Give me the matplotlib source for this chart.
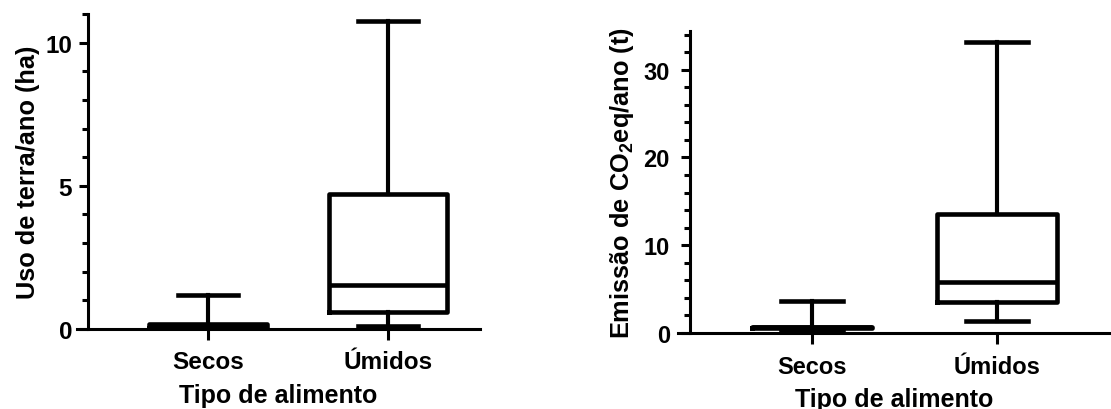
import matplotlib
matplotlib.use('Agg')
import matplotlib.pyplot as plt
from matplotlib.ticker import MultipleLocator

plt.rcParams['font.family'] = 'Liberation Sans'
plt.rcParams['font.weight'] = 'bold'
plt.rcParams['mathtext.fontset'] = 'custom'
plt.rcParams['mathtext.rm'] = 'Liberation Sans:bold'
plt.rcParams['mathtext.it'] = 'Liberation Sans:bold'
plt.rcParams['mathtext.bf'] = 'Liberation Sans:bold'

categorias = ['Secos', 'Úmidos']

# uso de terra por ano (ha)
terra_min = [0.0, 0.1]
terra_q1 = [0.02, 0.59]
terra_med = [0.1, 1.54]
terra_q3 = [0.17, 4.7]
terra_max = [1.2, 10.76]

# emissao de CO2eq por ano (t)
co2_min = [0.19, 1.4]
co2_q1 = [0.58, 3.49]
co2_med = [0.65, 5.76]
co2_q3 = [0.74, 13.6]
co2_max = [3.6, 33.1]

W, H = 1111, 410
fig = plt.figure(figsize=(W / 100, H / 100), dpi=100)


def px_axes(x0, x1, ytop, ybot):
    return fig.add_axes([x0 / W, 1 - ybot / H, (x1 - x0) / W, (ybot - ytop) / H])


def caixa(ax, lo, q1, med, q3, hi, largura, cap):
    stats = []
    for i in range(len(categorias)):
        stats.append(dict(whislo=lo[i], q1=q1[i], med=med[i], q3=q3[i],
                          whishi=hi[i], fliers=[]))
    lw = 3.3
    ax.bxp(stats, positions=[1, 2], widths=largura, capwidths=cap,
           showfliers=False,
           boxprops=dict(color='black', linewidth=lw),
           whiskerprops=dict(color='black', linewidth=lw * 0.9),
           capprops=dict(color='black', linewidth=lw),
           medianprops=dict(color='black', linewidth=lw),
           manage_ticks=False, zorder=3)


def estilo(ax, xlim, xspine, ylim, major, minor, ypad, tsize, xpad, lpad):
    ax.set_xlim(*xlim)
    ax.set_ylim(*ylim)
    ax.spines['top'].set_visible(False)
    ax.spines['right'].set_visible(False)
    ax.spines['left'].set_position(('data', xspine))
    for s in ['left', 'bottom']:
        ax.spines[s].set_linewidth(2.2)
    ax.set_xticks([1, 2])
    ax.set_xticklabels(categorias)
    ax.yaxis.set_major_locator(MultipleLocator(major))
    ax.yaxis.set_minor_locator(MultipleLocator(minor))
    ax.tick_params(axis='x', length=8, width=2.2, pad=xpad, labelsize=tsize)
    ax.tick_params(axis='y', which='major', length=6.5, width=2.2, pad=ypad,
                   labelsize=tsize)
    ax.tick_params(axis='y', which='minor', length=4.5, width=2.2)
    ax.set_xlabel('Tipo de alimento', fontsize=18, fontweight='bold', labelpad=lpad)


ax1 = px_axes(77, 480, 15, 330)
caixa(ax1, terra_min, terra_q1, terra_med, terra_q3, terra_max, 0.66, 0.33)
estilo(ax1, (0.272, 2.511), 0.333, (0, 11), 5, 1, 5, 17.5, 7, 7)
ax1.set_ylabel('Uso de terra/ano (ha)', fontsize=18.3, fontweight='bold')
ax1.yaxis.set_label_coords(-0.092, 0.5)

ax2 = px_axes(678, 1111, 32, 334)
caixa(ax2, co2_min, co2_q1, co2_med, co2_q3, co2_max, 0.65, 0.33)
estilo(ax2, (0.276, 2.616), 0.341, (0, 34.4), 10, 2, 8, 17, 7.5, 6.5)
ax2.set_ylabel('Emissão de CO$_2$eq/ano (t)', fontsize=18.3, fontweight='bold')
ax2.yaxis.set_label_coords(-0.098, 0.5)

fig.savefig('out.png', dpi=100)
